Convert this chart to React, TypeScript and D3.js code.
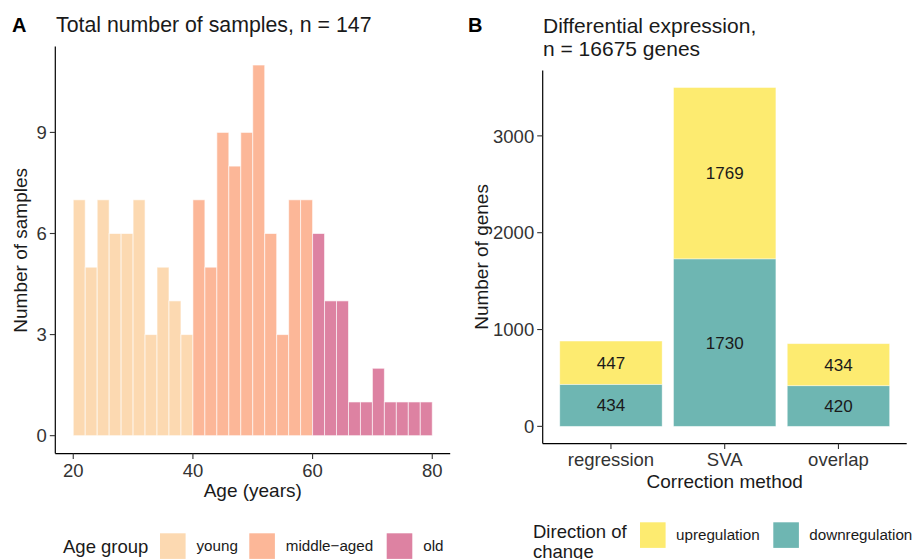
import React from "react";
import * as d3 from "d3";

// ---------- Panel A data ----------
const binStarts = d3.range(20, 80, 2); // 2-year bins from 20 to 80
const binCounts = [7, 5, 7, 6, 6, 7, 3, 5, 4, 3, 7, 5, 9, 8, 9, 11, 6, 3, 7, 7, 6, 4, 4, 1, 1, 2, 1, 1, 1, 1];
const ageGroups = ["young", "middle\u2212aged", "old"];
const ageColors = ["#FCD9B1", "#FCB798", "#DD82A2"];
const ageTicks = [20, 40, 60, 80];
const countTicks = [0, 3, 6, 9];

// ---------- Panel B data ----------
const methods = ["regression", "SVA", "overlap"];
const downValues = [434, 1730, 420];
const upValues = [447, 1769, 434];
const directions = ["upregulation", "downregulation"];
const dirColors = ["#FDEB70", "#6EB6B2"];
const geneTicks = [0, 1000, 2000, 3000];

const FONT = "'Liberation Sans', Arial, Helvetica, sans-serif";
const TXT = "#1a1a1a";

export default function App() {
  // Panel A scales
  const xA = d3.scaleLinear().domain([17, 83]).range([55.3, 450.2]);
  const yA = d3.scaleLinear().domain([-0.55, 11.55]).range([454.2, 46.5]);
  const groupOf = (a: number) => (a < 40 ? 0 : a < 60 ? 1 : 2);

  // Panel B scales
  const xB = d3.scaleBand<string>().domain(methods).range([542.7, 906.7]).paddingInner(0.1).paddingOuter(0.15);
  const totalMax = d3.max(methods.map((_, i) => downValues[i] + upValues[i])) as number;
  const yB = d3.scaleLinear().domain([-0.05 * totalMax, 1.05 * totalMax]).range([443.3, 70.6]);

  const axisA = { left: 55.3, bottom: 453.6 };
  const axisB = { left: 542.7, bottom: 443.6 };

  return (
    <svg width={917} height={559} style={{ position: "absolute", left: 0, top: 0, background: "#fff" }} fontFamily={FONT}>
      {/* ================= Panel A ================= */}
      <text x={12} y={32} fontSize={20} fontWeight="bold" fill="#000">A</text>
      <text x={56} y={32} fontSize={21.3} fill={TXT}>Total number of samples, n = 147</text>

      {binStarts.map((b, i) => (
        <rect
          key={i}
          x={xA(b)}
          y={yA(binCounts[i])}
          width={xA(b + 2) - xA(b)}
          height={yA(0) - yA(binCounts[i])}
          fill={ageColors[groupOf(b)]}
          stroke="#fff"
          strokeOpacity={0.6}
          strokeWidth={1}
        />
      ))}

      {/* y axis */}
      <line x1={axisA.left} x2={axisA.left} y1={yA.range()[1]} y2={axisA.bottom} stroke="#000" strokeWidth={1.2} />
      {countTicks.map((t) => (
        <g key={t}>
          <line x1={axisA.left - 5.5} x2={axisA.left} y1={yA(t)} y2={yA(t)} stroke="#333" strokeWidth={1.1} />
          <text x={axisA.left - 8.5} y={yA(t)} dy="0.36em" textAnchor="end" fontSize={18.5} fill="#333">{t}</text>
        </g>
      ))}
      {/* x axis */}
      <line x1={axisA.left} x2={xA.range()[1]} y1={axisA.bottom} y2={axisA.bottom} stroke="#000" strokeWidth={1.2} />
      {ageTicks.map((t) => (
        <g key={t}>
          <line x1={xA(t)} x2={xA(t)} y1={axisA.bottom} y2={axisA.bottom + 5.5} stroke="#333" strokeWidth={1.1} />
          <text x={xA(t)} y={axisA.bottom + 23.5} textAnchor="middle" fontSize={18.5} fill="#333">{t}</text>
        </g>
      ))}
      <text x={(xA.range()[0] + xA.range()[1]) / 2} y={axisA.bottom + 43.5} textAnchor="middle" fontSize={19} fill={TXT}>Age (years)</text>
      <text transform={`translate(27,${(yA.range()[0] + yA.range()[1]) / 2}) rotate(-90)`} textAnchor="middle" fontSize={19} fill={TXT}>Number of samples</text>

      {/* legend A */}
      <text x={63} y={552.5} fontSize={18.5} fill={TXT}>Age group</text>
      {ageGroups.map((g, i) => {
        const kx = [160, 249.3, 386.7][i];
        return (
          <g key={g}>
            <rect x={kx} y={533.3} width={25.6} height={25.6} fill={ageColors[i]} />
            <text x={kx + 36.5} y={551.3} fontSize={15.2} fill={TXT}>{g}</text>
          </g>
        );
      })}

      {/* ================= Panel B ================= */}
      <text x={468} y={32} fontSize={20} fontWeight="bold" fill="#000">B</text>
      <text x={543} y={32.5} fontSize={21} fill={TXT}>Differential expression,</text>
      <text x={543} y={55.5} fontSize={21} fill={TXT}>n = 16675 genes</text>

      {methods.map((m, i) => {
        const x = xB(m) as number;
        const w = xB.bandwidth();
        const d = downValues[i];
        const u = upValues[i];
        return (
          <g key={m}>
            <rect x={x} y={yB(d)} width={w} height={yB(0) - yB(d)} fill={dirColors[1]} stroke="#fff" strokeOpacity={0.5} strokeWidth={0.8} />
            <rect x={x} y={yB(d + u)} width={w} height={yB(d) - yB(d + u)} fill={dirColors[0]} stroke="#fff" strokeOpacity={0.5} strokeWidth={0.8} />
            <text x={x + w / 2} y={yB(d / 2)} dy="0.36em" textAnchor="middle" fontSize={17} fill={TXT}>{d}</text>
            <text x={x + w / 2} y={yB(d + u / 2)} dy="0.36em" textAnchor="middle" fontSize={17} fill={TXT}>{u}</text>
          </g>
        );
      })}

      {/* y axis B */}
      <line x1={axisB.left} x2={axisB.left} y1={yB.range()[1]} y2={axisB.bottom} stroke="#000" strokeWidth={1.2} />
      {geneTicks.map((t) => (
        <g key={t}>
          <line x1={axisB.left - 5.5} x2={axisB.left} y1={yB(t)} y2={yB(t)} stroke="#333" strokeWidth={1.1} />
          <text x={axisB.left - 8.5} y={yB(t)} dy="0.36em" textAnchor="end" fontSize={18.5} fill="#333">{t}</text>
        </g>
      ))}
      {/* x axis B */}
      <line x1={axisB.left} x2={xB.range()[1]} y1={axisB.bottom} y2={axisB.bottom} stroke="#000" strokeWidth={1.2} />
      {methods.map((m) => {
        const cx = (xB(m) as number) + xB.bandwidth() / 2;
        return (
          <g key={m}>
            <line x1={cx} x2={cx} y1={axisB.bottom} y2={axisB.bottom + 5.5} stroke="#333" strokeWidth={1.1} />
            <text x={cx} y={axisB.bottom + 22.5} textAnchor="middle" fontSize={18.5} fill="#333">{m}</text>
          </g>
        );
      })}
      <text x={(xB.range()[0] + xB.range()[1]) / 2} y={axisB.bottom + 44} textAnchor="middle" fontSize={19} fill={TXT}>Correction method</text>
      <text transform={`translate(488,${(yB.range()[0] + yB.range()[1]) / 2}) rotate(-90)`} textAnchor="middle" fontSize={19} fill={TXT}>Number of genes</text>

      {/* legend B */}
      <text x={533} y={537.5} fontSize={18.5} fill={TXT}>Direction of</text>
      <text x={533} y={558} fontSize={18.5} fill={TXT}>change</text>
      {directions.map((dname, i) => {
        const kx = [640, 773.3][i];
        return (
          <g key={dname}>
            <rect x={kx} y={522.3} width={25.6} height={25.6} fill={dirColors[i]} />
            <text x={kx + 36} y={540.3} fontSize={15.2} fill={TXT}>{dname}</text>
          </g>
        );
      })}
    </svg>
  );
}
